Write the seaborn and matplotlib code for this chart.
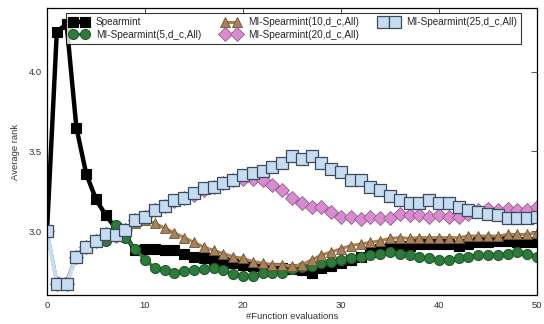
import numpy as np
import pandas as pd
import matplotlib
matplotlib.use("Agg")
import matplotlib.pyplot as plt
import seaborn as sns

evals = list(range(51))

spearmint = [3.00, 4.25, 4.30, 3.65, 3.36, 3.20, 3.10, 3.02, 2.97, 2.88,
             2.89, 2.89, 2.88, 2.88, 2.86, 2.84, 2.83, 2.82, 2.81, 2.80,
             2.79, 2.78, 2.77, 2.77, 2.77, 2.76, 2.755, 2.74, 2.77, 2.78,
             2.80, 2.82, 2.84, 2.87, 2.89, 2.90, 2.91, 2.91, 2.92, 2.92,
             2.92, 2.92, 2.91, 2.92, 2.93, 2.93, 2.94, 2.94, 2.93, 2.93,
             2.93]
mi5 = [3.00, 2.68, 2.68, 2.84, 2.90, 2.93, 2.94, 3.04, 2.96, 2.89,
       2.82, 2.77, 2.755, 2.74, 2.75, 2.755, 2.76, 2.77, 2.755, 2.73,
       2.72, 2.72, 2.735, 2.735, 2.74, 2.765, 2.775, 2.78, 2.80, 2.81,
       2.82, 2.83, 2.84, 2.85, 2.86, 2.87, 2.86, 2.85, 2.84, 2.83,
       2.82, 2.82, 2.83, 2.84, 2.85, 2.85, 2.85, 2.86, 2.87, 2.86,
       2.84]
mi10 = [3.00, 2.68, 2.69, 2.85, 2.91, 2.95, 2.97, 2.99, 3.02, 3.05,
        3.07, 3.05, 3.02, 2.99, 2.96, 2.93, 2.90, 2.88, 2.86, 2.84,
        2.83, 2.81, 2.80, 2.79, 2.79, 2.78, 2.79, 2.82, 2.85, 2.87,
        2.89, 2.91, 2.92, 2.93, 2.94, 2.955, 2.96, 2.955, 2.96, 2.96,
        2.96, 2.96, 2.96, 2.97, 2.97, 2.97, 2.97, 2.98, 2.98, 2.98,
        2.99]
mi20 = [3.00, 2.67, 2.67, 2.84, 2.90, 2.94, 2.98, 2.97, 3.01, 3.07,
        3.09, 3.13, 3.16, 3.19, 3.21, 3.23, 3.26, 3.28, 3.30, 3.32,
        3.33, 3.33, 3.32, 3.29, 3.26, 3.21, 3.18, 3.15, 3.15, 3.12,
        3.09, 3.09, 3.075, 3.09, 3.08, 3.08, 3.11, 3.10, 3.10, 3.09,
        3.10, 3.09, 3.09, 3.11, 3.13, 3.14, 3.13, 3.14, 3.13, 3.13,
        3.15]
mi25 = [3.00, 2.67, 2.67, 2.84, 2.90, 2.94, 2.98, 2.975, 3.01, 3.07,
        3.09, 3.135, 3.16, 3.195, 3.21, 3.24, 3.27, 3.28, 3.30, 3.32,
        3.35, 3.365, 3.38, 3.40, 3.43, 3.47, 3.45, 3.47, 3.43, 3.39,
        3.37, 3.32, 3.32, 3.28, 3.26, 3.22, 3.195, 3.18, 3.18, 3.195,
        3.18, 3.175, 3.15, 3.13, 3.12, 3.11, 3.10, 3.08, 3.08, 3.08,
        3.09]

labels = ["Spearmint", "MI-Spearmint(5,d_c,All)", "MI-Spearmint(10,d_c,All)",
          "MI-Spearmint(20,d_c,All)", "MI-Spearmint(25,d_c,All)"]
series = [spearmint, mi5, mi10, mi20, mi25]

styles = [
    dict(color="black", marker="s", markersize=7.6, linewidth=3.2,
         markeredgecolor="black", markeredgewidth=0.8),
    dict(color="#2e7a3c", marker="o", markersize=7.2, linewidth=2.4,
         markeredgecolor="#1f5a2a", markeredgewidth=0.8),
    dict(color="#a8825a", marker="^", markersize=7.6, linewidth=2.2,
         markeredgecolor="#6e5232", markeredgewidth=0.6),
    dict(color="#d98bcf", marker="D", markersize=7.0, linewidth=2.2,
         markeredgecolor="#8f5c8a", markeredgewidth=0.6),
    dict(color="#c6dcf0", marker="s", markersize=8.4, linewidth=2.8,
         markeredgecolor="#3c4c60", markeredgewidth=0.9),
]

sns.set_style("white")
plt.rcParams["font.family"] = ["Liberation Sans", "DejaVu Sans"]

fig = plt.figure(figsize=(5.44, 3.24), dpi=100)
ax = fig.add_axes([47 / 544, 1 - 295 / 324, (537 - 47) / 544, (295 - 8) / 324])

for lab, vals, st in zip(labels, series, styles):
    df = pd.DataFrame({"x": evals, "y": vals})
    sns.lineplot(data=df, x="x", y="y", ax=ax, label=lab, **st)

ax.set_xlim(0, 50)
ax.set_ylim(2.6, 4.4)
ax.set_xticks([0, 10, 20, 30, 40, 50])
ax.set_yticks([3.0, 3.5, 4.0])
ax.tick_params(axis="both", direction="in", top=True, right=True,
               labelsize=6.8, length=4, width=0.6, colors="#333333",
               labelcolor="#333333", pad=4)
for sp in ax.spines.values():
    sp.set_color("black")
    sp.set_linewidth(0.9)
ax.set_xlabel("#Function evaluations", fontsize=6.8, color="#333333", labelpad=2)
ax.set_ylabel("Average rank", fontsize=6.8, color="#333333", labelpad=6)

leg = ax.legend(loc="upper left", bbox_to_anchor=(66 / 544, 1 - 13 / 324),
                bbox_transform=fig.transFigure, ncol=3, numpoints=2,
                fontsize=7.2, frameon=True, fancybox=False, handlelength=1.8,
                handletextpad=0.8, columnspacing=2.1, borderpad=0.4,
                labelspacing=0.25, borderaxespad=0)
leg.get_frame().set_edgecolor("black")
leg.get_frame().set_linewidth(0.8)

fig.savefig("out.png", dpi=100)
